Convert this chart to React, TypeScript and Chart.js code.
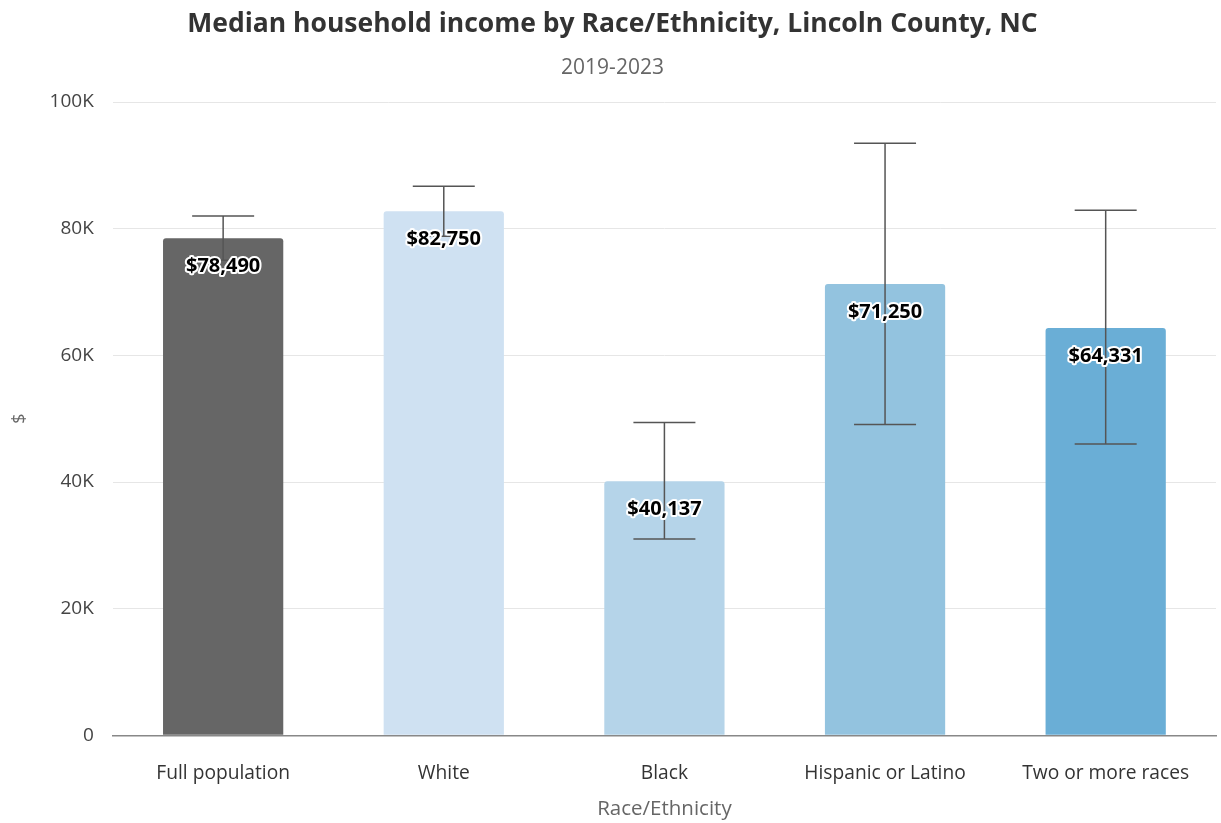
import React, { useEffect, useRef } from "react";
import { Chart, registerables } from "chart.js";

Chart.register(...registerables);

const categories = ["Full population", "White", "Black", "Hispanic or Latino", "Two or more races"];
const incomeValues = [78490, 82750, 40137, 71250, 64331];
const errorLow = [75000, 78800, 31000, 49100, 46000];
const errorHigh = [82000, 86700, 49400, 93500, 82900];
const barColors = ["#666666", "#cfe1f2", "#b5d4e9", "#93c3df", "#6aaed6"];
const yTicks = [0, 20000, 40000, 60000, 80000, 100000];

const FONT = "'Open Sans', 'Noto Sans', sans-serif";

const errorBarPlugin = {
  id: "errorBars",
  afterDatasetsDraw(chart: any) {
    const { ctx, scales } = chart;
    const meta = chart.getDatasetMeta(0);
    ctx.save();
    ctx.strokeStyle = "#555555";
    ctx.lineWidth = 1.5;
    meta.data.forEach((bar: any, i: number) => {
      const x = bar.x;
      const yl = scales.y.getPixelForValue(errorLow[i]);
      const yh = scales.y.getPixelForValue(errorHigh[i]);
      const cap = 31;
      ctx.beginPath();
      ctx.moveTo(x, yl);
      ctx.lineTo(x, yh);
      ctx.moveTo(x - cap, yh);
      ctx.lineTo(x + cap, yh);
      ctx.moveTo(x - cap, yl);
      ctx.lineTo(x + cap, yl);
      ctx.stroke();
    });
    ctx.font = `bold 20px ${FONT}`;
    ctx.textAlign = "center";
    ctx.textBaseline = "middle";
    ctx.lineJoin = "round";
    meta.data.forEach((bar: any, i: number) => {
      const text = "$" + incomeValues[i].toLocaleString("en-US");
      const y = bar.y + 28;
      ctx.strokeStyle = "#ffffff";
      ctx.lineWidth = 4;
      ctx.strokeText(text, bar.x, y);
      ctx.fillStyle = "#000000";
      ctx.fillText(text, bar.x, y);
    });
    ctx.restore();
  },
};

export default function App() {
  const ref = useRef<HTMLCanvasElement>(null);
  useEffect(() => {
    if (!ref.current) return;
    const chart = new Chart(ref.current, {
      type: "bar",
      data: {
        labels: categories,
        datasets: [
          {
            data: incomeValues,
            backgroundColor: barColors,
            borderRadius: { topLeft: 3, topRight: 3, bottomLeft: 0, bottomRight: 0 },
            borderSkipped: "bottom",
            categoryPercentage: 1,
            barPercentage: 0.545,
          },
        ],
      },
      options: {
        animation: false,
        responsive: true,
        maintainAspectRatio: false,
        layout: { padding: { left: 9, right: 5, top: 0, bottom: 0 } },
        plugins: {
          legend: { display: false },
          tooltip: { enabled: false },
          title: {
            display: true,
            text: "Median household income by Race/Ethnicity, Lincoln County, NC",
            font: { family: FONT, size: 26.5, weight: "bold" },
            color: "#333333",
            padding: { top: 9, bottom: 15 },
          },
          subtitle: {
            display: true,
            text: "2019-2023",
            font: { family: FONT, size: 21 },
            color: "#666666",
            padding: { top: 0, bottom: 21 },
          },
        },
        scales: {
          x: {
            grid: { display: false, drawTicks: false },
            border: { color: "#888888", width: 1.5 },
            ticks: {
              font: { family: FONT, size: 19.2 },
              color: "#333333",
              padding: 27,
              maxRotation: 0,
              minRotation: 0,
            },
            title: {
              display: true,
              text: "Race/Ethnicity",
              font: { family: FONT, size: 20.5 },
              color: "#666666",
              padding: { top: 8, bottom: 2 },
            },
            afterFit(axis: any) {
              axis.height -= 24;
            },
          },
          y: {
            min: 0,
            max: 100000,
            afterBuildTicks(axis: any) {
              axis.ticks = yTicks.map((v) => ({ value: v }));
            },
            grid: { color: "#e6e6e6", drawTicks: false },
            border: { display: false },
            ticks: {
              font: { family: FONT, size: 19 },
              color: "#444444",
              padding: 19,
              callback: (v: any) => (v === 0 ? "0" : v / 1000 + "K"),
            },
            title: {
              display: true,
              text: "$",
              font: { family: FONT, size: 18 },
              color: "#666666",
              padding: { top: 0, bottom: 0 },
            },
          },
        },
      },
      plugins: [errorBarPlugin],
    });
    return () => chart.destroy();
  }, []);
  return (
    <div style={{ position: "fixed", left: 0, top: 0, width: 1221, height: 823 }}>
      <canvas ref={ref} />
    </div>
  );
}
